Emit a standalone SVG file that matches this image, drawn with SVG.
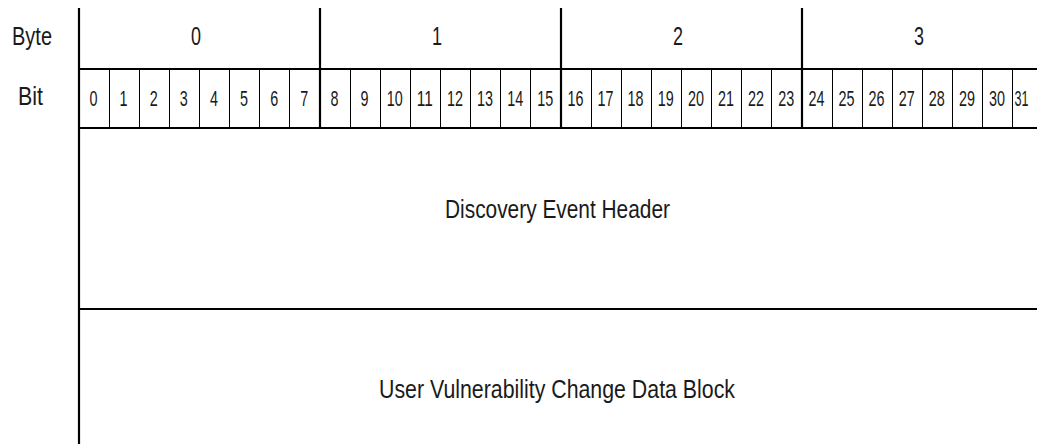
<svg xmlns="http://www.w3.org/2000/svg" width="1037" height="444" viewBox="0 0 1037 444">
<style>
text{font-family:"Liberation Sans",Arial,sans-serif;fill:#1a1a1a}
.lbl{font-size:25px}
.byte{font-size:25px;text-anchor:middle}
.bit{font-size:22px;text-anchor:middle}
.big{font-size:25px}
.thick{stroke:#000;stroke-width:2.2;fill:none}
.thin{stroke:#000;stroke-width:1;fill:none}
</style>
<rect width="1037" height="444" fill="#fff"/>
<g id="connectors">
<line class="thick" x1="79" y1="8" x2="79" y2="444"/>
<line class="thick" x1="320" y1="8" x2="320" y2="129"/>
<line class="thick" x1="561" y1="8" x2="561" y2="129"/>
<line class="thick" x1="802" y1="8" x2="802" y2="129"/>
<line class="thick" x1="78" y1="69" x2="1037" y2="69"/>
<line class="thick" x1="78" y1="128" x2="1037" y2="128"/>
<line class="thick" x1="78" y1="309" x2="1037" y2="309"/>
<path class="thin" d="M109.5 69V128M139.5 69V128M169.5 69V128M199.5 69V128M229.5 69V128M259.5 69V128M289.5 69V128M350.5 69V128M380.5 69V128M410.5 69V128M440.5 69V128M470.5 69V128M500.5 69V128M530.5 69V128M591.5 69V128M621.5 69V128M651.5 69V128M681.5 69V128M711.5 69V128M741.5 69V128M771.5 69V128M832.5 69V128M862.5 69V128M892.5 69V128M922.5 69V128M952.5 69V128M982.5 69V128M1012.5 69V128"/>
</g>
<g id="row-labels">
<text class="lbl" x="12" y="45" textLength="40" lengthAdjust="spacingAndGlyphs">Byte</text>
<text class="lbl" x="18" y="105" textLength="25" lengthAdjust="spacingAndGlyphs">Bit</text>
</g>
<g id="byte-row">
<text class="byte" x="196" y="45" textLength="10" lengthAdjust="spacingAndGlyphs">0</text>
<text class="byte" x="437" y="45" textLength="10" lengthAdjust="spacingAndGlyphs">1</text>
<text class="byte" x="678" y="45" textLength="10" lengthAdjust="spacingAndGlyphs">2</text>
<text class="byte" x="919" y="45" textLength="10" lengthAdjust="spacingAndGlyphs">3</text>
</g>
<g id="bit-row">
<text class="bit" x="93.5" y="106" textLength="8" lengthAdjust="spacingAndGlyphs">0</text>
<text class="bit" x="123.6" y="106" textLength="8" lengthAdjust="spacingAndGlyphs">1</text>
<text class="bit" x="153.7" y="106" textLength="8" lengthAdjust="spacingAndGlyphs">2</text>
<text class="bit" x="183.8" y="106" textLength="8" lengthAdjust="spacingAndGlyphs">3</text>
<text class="bit" x="214" y="106" textLength="8" lengthAdjust="spacingAndGlyphs">4</text>
<text class="bit" x="244.1" y="106" textLength="8" lengthAdjust="spacingAndGlyphs">5</text>
<text class="bit" x="274.2" y="106" textLength="8" lengthAdjust="spacingAndGlyphs">6</text>
<text class="bit" x="304.3" y="106" textLength="8" lengthAdjust="spacingAndGlyphs">7</text>
<text class="bit" x="334.4" y="106" textLength="8" lengthAdjust="spacingAndGlyphs">8</text>
<text class="bit" x="364.6" y="106" textLength="8" lengthAdjust="spacingAndGlyphs">9</text>
<text class="bit" x="394.7" y="106" textLength="16" lengthAdjust="spacingAndGlyphs">10</text>
<text class="bit" x="424.8" y="106" textLength="16" lengthAdjust="spacingAndGlyphs">11</text>
<text class="bit" x="454.9" y="106" textLength="16" lengthAdjust="spacingAndGlyphs">12</text>
<text class="bit" x="485" y="106" textLength="16" lengthAdjust="spacingAndGlyphs">13</text>
<text class="bit" x="515.2" y="106" textLength="16" lengthAdjust="spacingAndGlyphs">14</text>
<text class="bit" x="545.3" y="106" textLength="16" lengthAdjust="spacingAndGlyphs">15</text>
<text class="bit" x="575.4" y="106" textLength="16" lengthAdjust="spacingAndGlyphs">16</text>
<text class="bit" x="605.5" y="106" textLength="16" lengthAdjust="spacingAndGlyphs">17</text>
<text class="bit" x="635.6" y="106" textLength="16" lengthAdjust="spacingAndGlyphs">18</text>
<text class="bit" x="665.8" y="106" textLength="16" lengthAdjust="spacingAndGlyphs">19</text>
<text class="bit" x="695.9" y="106" textLength="16" lengthAdjust="spacingAndGlyphs">20</text>
<text class="bit" x="726" y="106" textLength="16" lengthAdjust="spacingAndGlyphs">21</text>
<text class="bit" x="756.1" y="106" textLength="16" lengthAdjust="spacingAndGlyphs">22</text>
<text class="bit" x="786.2" y="106" textLength="16" lengthAdjust="spacingAndGlyphs">23</text>
<text class="bit" x="816.4" y="106" textLength="16" lengthAdjust="spacingAndGlyphs">24</text>
<text class="bit" x="846.5" y="106" textLength="16" lengthAdjust="spacingAndGlyphs">25</text>
<text class="bit" x="876.6" y="106" textLength="16" lengthAdjust="spacingAndGlyphs">26</text>
<text class="bit" x="906.7" y="106" textLength="16" lengthAdjust="spacingAndGlyphs">27</text>
<text class="bit" x="936.8" y="106" textLength="16" lengthAdjust="spacingAndGlyphs">28</text>
<text class="bit" x="967" y="106" textLength="16" lengthAdjust="spacingAndGlyphs">29</text>
<text class="bit" x="997.1" y="106" textLength="16" lengthAdjust="spacingAndGlyphs">30</text>
<text class="bit" x="1021.5" y="106" textLength="14" lengthAdjust="spacingAndGlyphs">31</text>
</g>
<g id="discovery-event-header">
<text class="big" x="445" y="218" textLength="225" lengthAdjust="spacingAndGlyphs">Discovery Event Header</text>
</g>
<g id="user-vulnerability-change-data-block">
<text class="big" x="379" y="398" textLength="356" lengthAdjust="spacingAndGlyphs">User Vulnerability Change Data Block</text>
</g>
</svg>
